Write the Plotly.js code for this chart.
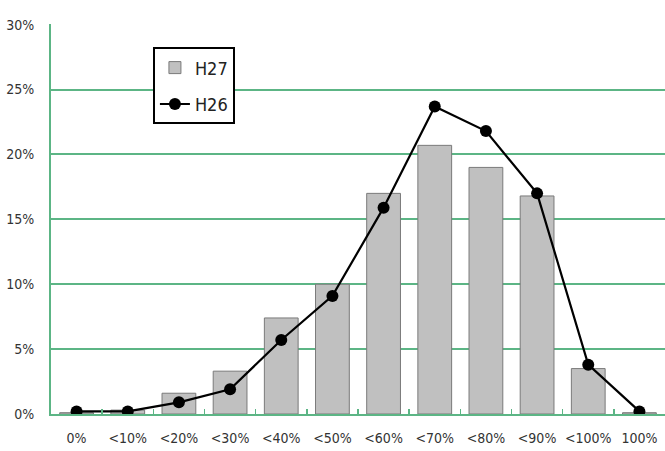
<!DOCTYPE html>
<html>
<head>
<meta charset="utf-8">
<script src="https://cdn.plot.ly/plotly-3.0.1.min.js"></script>
<style>
  html, body { margin: 0; padding: 0; background: #ffffff; }
  #chart { width: 665px; height: 451px; }
</style>
</head>
<body>
<div id="chart"></div>
<script>
// Score bands (share of respondents per band)
const categories = ['0%', '<10%', '<20%', '<30%', '<40%', '<50%', '<60%', '<70%', '<80%', '<90%', '<100%', '100%'];
const h27Values = [0.1, 0.3, 1.6, 3.3, 7.4, 10.0, 17.0, 20.7, 19.0, 16.8, 3.5, 0.1];
const h26Values = [0.2, 0.2, 0.9, 1.9, 5.7, 9.1, 15.9, 23.7, 21.8, 17.0, 3.8, 0.2];
const yTicks = [0, 5, 10, 15, 20, 25, 30];

const green = '#5cb585';
const font = 'DejaVu Sans Condensed, Liberation Sans Narrow, Liberation Sans, Arial, sans-serif';

const traces = [
  {
    type: 'bar',
    name: 'H27',
    legendgroup: 'h27',
    x: categories,
    y: h27Values,
    marker: { color: '#c0c0c0', line: { color: '#7a7a7a', width: 1 } },
    hoverinfo: 'skip'
  },
  {
    type: 'scatter',
    mode: 'lines+markers',
    name: 'H26',
    legendgroup: 'h26',
    x: categories,
    y: h26Values,
    line: { color: '#000000', width: 2.2 },
    marker: { color: '#000000', size: 12 },
    hoverinfo: 'skip'
  }
];

const layout = {
  width: 665,
  height: 451,
  margin: { l: 51, r: 0, t: 24, b: 37 },
  paper_bgcolor: '#ffffff',
  plot_bgcolor: '#ffffff',
  font: { family: font, size: 14, color: '#333333' },
  bargap: 0.34,
  showlegend: true,
  legend: {
    x: 0.166, y: 0.94,
    xanchor: 'left', yanchor: 'top',
    bgcolor: '#ffffff',
    bordercolor: '#000000',
    borderwidth: 2,
    font: { family: font, size: 18, color: '#222222' },
    traceorder: 'grouped',
    tracegroupgap: 10,
    itemwidth: 30
  },
  xaxis: {
    type: 'category',
    categoryorder: 'array',
    categoryarray: categories,
    range: [-0.5, 11.5],
    showline: true,
    linecolor: green,
    linewidth: 2,
    showgrid: false,
    ticks: 'inside',
    tickson: 'boundaries',
    ticklen: 5,
    tickcolor: green,
    tickwidth: 1.5,
    tickangle: 0,
    ticklabelstandoff: 10,
    tickfont: { family: font, size: 14, color: '#333333' },
    fixedrange: true
  },
  yaxis: {
    range: [0, 30.05],
    tickvals: yTicks,
    ticktext: yTicks.map(v => v + '%'),
    showline: true,
    linecolor: green,
    linewidth: 2,
    showgrid: true,
    gridcolor: green,
    gridwidth: 2,
    zeroline: false,
    ticks: '',
    ticklabelstandoff: 12,
    tickfont: { family: font, size: 14, color: '#333333' },
    fixedrange: true
  }
};

Plotly.newPlot('chart', traces, layout, { displayModeBar: false, staticPlot: true });
</script>
</body>
</html>
